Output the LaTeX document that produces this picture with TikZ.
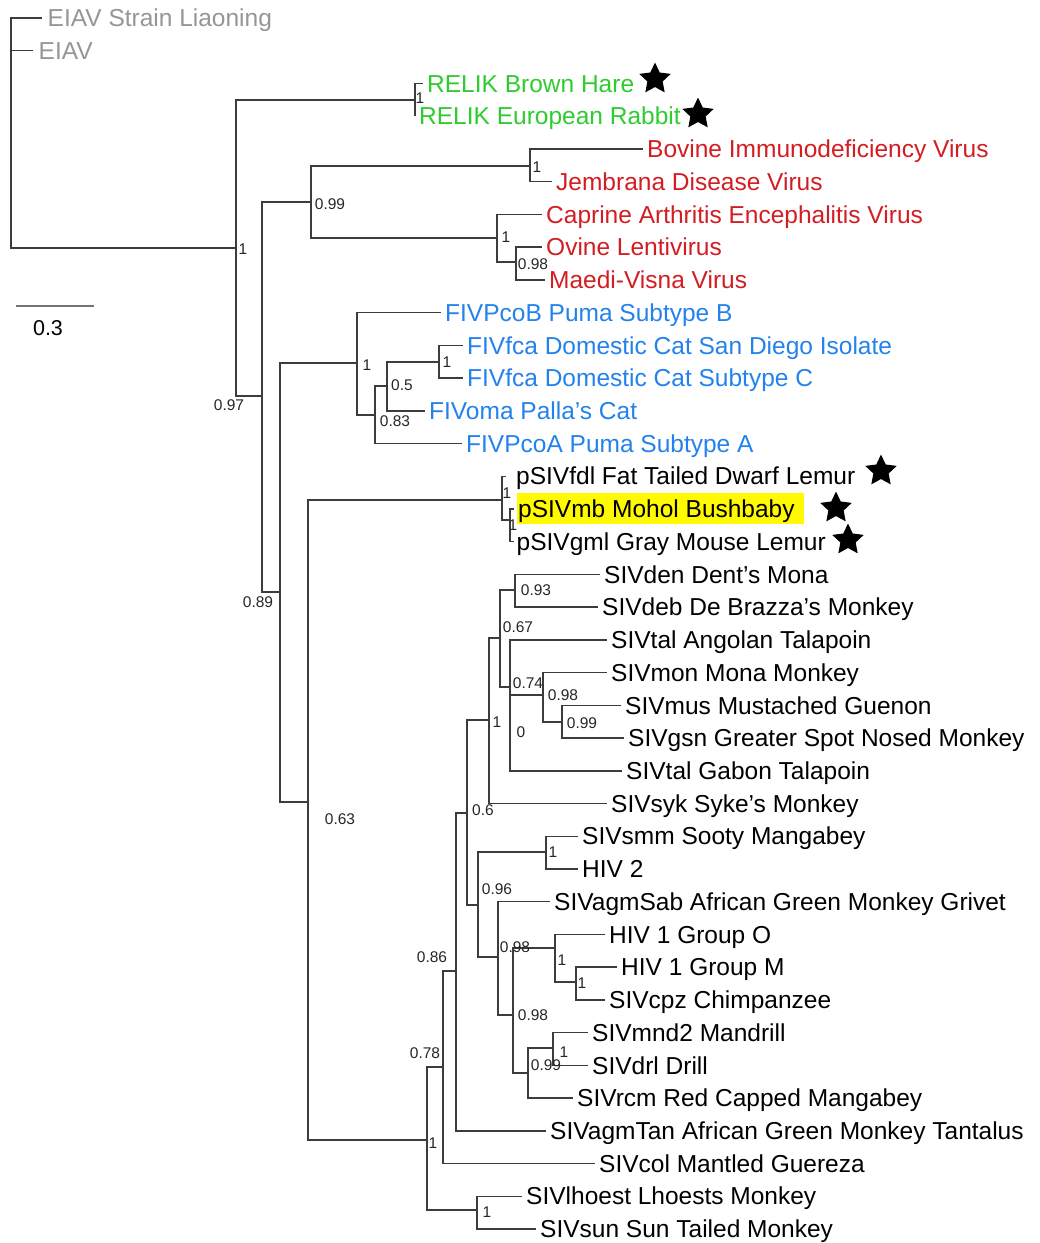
\documentclass[tikz,border=0pt]{standalone}
\usepackage{fontspec}
\setmainfont{Liberation Sans}
\usetikzlibrary{shapes.geometric}
\definecolor{cgrey}{RGB}{150,150,150}
\definecolor{cgreen}{RGB}{46,204,46}
\definecolor{cred}{RGB}{210,30,35}
\definecolor{cblue}{RGB}{35,130,235}
\definecolor{cline}{RGB}{60,60,60}
\definecolor{cyel}{RGB}{255,250,0}
\begin{document}
\begin{tikzpicture}[x=1pt,y=-1pt,
  br/.style={draw=cline,line width=1.4pt},
  taxon/.style={anchor=west,inner ysep=0pt,inner xsep=4pt,text height=17.5pt,text depth=0pt,font=\fontsize{24.5}{28}\selectfont},
  supp/.style={inner sep=0pt,text height=11pt,text depth=0pt,font=\fontsize{15.5}{18}\selectfont,text=black!85},
  starmark/.style={star,star points=5,star point ratio=2.05,fill=black,inner sep=0pt,minimum size=33pt}]
\useasboundingbox[fill=white] (0,0) rectangle (1040,1243);

% highlight
\node[fill=cyel,minimum width=287pt,minimum height=31pt,inner sep=0pt,anchor=north west] (hl) at (517,493) {};

% leaves
\node[taxon,text=cgrey,inner xsep=5.5pt] (L1) at (42,18) {EIAV Strain Liaoning};
\node[taxon,text=cgrey,inner xsep=5.5pt] (L2) at (33,50.7) {EIAV};
\node[taxon,text=cgreen] (L3) at (423,83.5) {RELIK Brown Hare};
\node[taxon,text=cgreen] (L4) at (415,116.2) {RELIK European Rabbit};
\node[taxon,text=cred] (L5) at (643,148.9) {Bovine Immunodeficiency Virus};
\node[taxon,text=cred] (L6) at (552,181.7) {Jembrana Disease Virus};
\node[taxon,text=cred] (L7) at (542,214.4) {Caprine Arthritis Encephalitis Virus};
\node[taxon,text=cred] (L8) at (542,247.1) {Ovine Lentivirus};
\node[taxon,text=cred] (L9) at (545,279.8) {Maedi-Visna Virus};
\node[taxon,text=cblue] (L10) at (441,312.6) {FIVPcoB Puma Subtype B};
\node[taxon,text=cblue] (L11) at (463,345.3) {FIVfca Domestic Cat San Diego Isolate};
\node[taxon,text=cblue] (L12) at (463,378) {FIVfca Domestic Cat Subtype C};
\node[taxon,text=cblue] (L13) at (425,410.8) {FIVoma Palla's Cat};
\node[taxon,text=cblue] (L14) at (462,443.5) {FIVPcoA Puma Subtype A};
\node[taxon,inner xsep=10pt] (L15) at (506,476.2) {pSIVfdl Fat Tailed Dwarf Lemur};
\node[taxon] (L16) at (514,508.9) {pSIVmb Mohol Bushbaby};
\node[taxon,inner xsep=2.5pt] (L17) at (514,541.7) {pSIVgml Gray Mouse Lemur};
\node[taxon] (L18) at (600,574.4) {SIVden Dent's Mona};
\node[taxon] (L19) at (598,607.1) {SIVdeb De Brazza's Monkey};
\node[taxon] (L20) at (607,639.8) {SIVtal Angolan Talapoin};
\node[taxon] (L21) at (607,672.6) {SIVmon Mona Monkey};
\node[taxon] (L22) at (621,705.3) {SIVmus Mustached Guenon};
\node[taxon] (L23) at (624,738) {SIVgsn Greater Spot Nosed Monkey};
\node[taxon] (L24) at (622,770.8) {SIVtal Gabon Talapoin};
\node[taxon] (L25) at (607,803.5) {SIVsyk Syke's Monkey};
\node[taxon] (L26) at (578,836.2) {SIVsmm Sooty Mangabey};
\node[taxon] (L27) at (578,868.9) {HIV 2};
\node[taxon] (L28) at (550,901.7) {SIVagmSab African Green Monkey Grivet};
\node[taxon] (L29) at (605,934.4) {HIV 1 Group O};
\node[taxon] (L30) at (617,967.1) {HIV 1 Group M};
\node[taxon] (L31) at (605,999.8) {SIVcpz Chimpanzee};
\node[taxon] (L32) at (588,1032.6) {SIVmnd2 Mandrill};
\node[taxon] (L33) at (588,1065.3) {SIVdrl Drill};
\node[taxon] (L34) at (573,1098) {SIVrcm Red Capped Mangabey};
\node[taxon] (L35) at (546,1130.8) {SIVagmTan African Green Monkey Tantalus};
\node[taxon] (L36) at (595,1163.5) {SIVcol Mantled Guereza};
\node[taxon] (L37) at (522,1196.2) {SIVlhoest Lhoests Monkey};
\node[taxon] (L38) at (536,1228.9) {SIVsun Sun Tailed Monkey};

% internal nodes
\coordinate (R) at (11,133);
\coordinate (A) at (236,248);
\coordinate (RK) at (415,100);
\coordinate (B) at (262,396);
\coordinate (N099) at (311,202);
\coordinate (BJ) at (530,166);
\coordinate (CA) at (497,238);
\coordinate (N098a) at (516,262);
\coordinate (C) at (280,592);
\coordinate (FIV) at (357,363);
\coordinate (N083) at (375,415);
\coordinate (N05) at (387,386);
\coordinate (FCA) at (439,362);
\coordinate (D) at (308,802);
\coordinate (PS1) at (502,500);
\coordinate (PS2) at (510,520);
\coordinate (E) at (427,1140);
\coordinate (LS) at (477,1210);
\coordinate (F) at (443,1067);
\coordinate (G) at (456,971);
\coordinate (H) at (467,813);
\coordinate (N1) at (489,720);
\coordinate (N067) at (500,638);
\coordinate (N093) at (515,590);
\coordinate (N074) at (510,687);
\coordinate (N0) at (510,731);
\coordinate (N098b) at (543,695);
\coordinate (N099b) at (562,722);
\coordinate (N096) at (478,905);
\coordinate (SH) at (546,852);
\coordinate (N098c) at (498,957);
\coordinate (N098d) at (513,1015);
\coordinate (HV1) at (555,948);
\coordinate (N1M) at (576,982);
\coordinate (N099c) at (528,1073);
\coordinate (MD) at (553,1048);

% branches
\foreach \p/\c in {R/L1.west,R/L2.west,R/A,A/RK,A/B,RK/L3.west,RK/L4.west,
  B/N099,B/C,N099/BJ,N099/CA,BJ/L5.west,BJ/L6.west,CA/L7.west,CA/N098a,
  N098a/L8.west,N098a/L9.west,C/FIV,C/D,FIV/L10.west,FIV/N083,N083/N05,
  N083/L14.west,N05/FCA,N05/L13.west,FCA/L11.west,FCA/L12.west,D/PS1,D/E,
  PS1/L15.west,PS1/PS2,PS2/L16.west,PS2/L17.west,E/F,E/LS,LS/L37.west,
  LS/L38.west,F/G,F/L36.west,G/H,G/L35.west,H/N1,H/N096,N1/N067,N1/L25.west,
  N067/N093,N067/N074,N093/L18.west,N093/L19.west,N074/L20.west,N074/N0,
  N0/N098b,N0/L24.west,N098b/L21.west,N098b/N099b,N099b/L22.west,
  N099b/L23.west,N096/SH,N096/N098c,SH/L26.west,SH/L27.west,N098c/L28.west,
  N098c/N098d,N098d/HV1,N098d/N099c,HV1/L29.west,HV1/N1M,N1M/L30.west,
  N1M/L31.west,N099c/MD,N099c/L34.west,MD/L32.west,MD/L33.west}
  \draw[br] (\p) |- (\c);
\draw[br,line width=2.8pt] ([yshift=-6pt]N074) -- (N0);

% support values
\node[supp] (sA) at (243,249) {1};
\node[supp] (sRK) at (420,98) {1};
\node[supp] (s099) at (330,204) {0.99};
\node[supp] (sBJ) at (537,167) {1};
\node[supp] (sCA) at (506,237) {1};
\node[supp] (s098a) at (533,264) {0.98};
\node[supp] (sB) at (229,405) {0.97};
\node[supp] (sFIV) at (367,365) {1};
\node[supp] (s05) at (402,385) {0.5};
\node[supp] (sFCA) at (447,362) {1};
\node[supp] (s083) at (395,421) {0.83};
\node[supp] (sC) at (258,602) {0.89};
\node[supp] (sD) at (340,819) {0.63};
\node[supp] (sPS1) at (507,493) {1};
\node[supp] (sPS2) at (513,525) {1};
\node[supp] (s093) at (536,590) {0.93};
\node[supp] (s067) at (518,627) {0.67};
\node[supp] (s074) at (528,683) {0.74};
\node[supp] (s0) at (521,732) {0};
\node[supp] (s098b) at (563,695) {0.98};
\node[supp] (s099b) at (582,723) {0.99};
\node[supp] (sN1) at (497,722) {1};
\node[supp] (sH) at (483,810) {0.6};
\node[supp] (sSH) at (553,852) {1};
\node[supp] (s096) at (497,889) {0.96};
\node[supp] (s098c) at (515,947) {0.98};
\node[supp] (s098d) at (533,1015) {0.98};
\node[supp] (sHV1) at (562,960) {1};
\node[supp] (sN1M) at (582,983) {1};
\node[supp] (sMD) at (564,1052) {1};
\node[supp] (s099c) at (546,1065) {0.99};
\node[supp] (sG) at (432,957) {0.86};
\node[supp] (sF) at (425,1053) {0.78};
\node[supp] (sE) at (433,1143) {1};
\node[supp] (sLS) at (487,1212) {1};

% stars
\node[starmark] (st1) at (655,79) {};
\node[starmark] (st2) at (698,114) {};
\node[starmark] (st3) at (881,471) {};
\node[starmark] (st4) at (836,508) {};
\node[starmark] (st5) at (848,540) {};

% scale bar
\coordinate (sb1) at (16,306);
\coordinate (sb2) at (94,306);
\draw[line width=1.6pt,draw=black!55] (sb1) -- (sb2);
\node[inner sep=0pt,text height=15pt,text depth=0pt,font=\fontsize{21.5}{24}\selectfont] (sbl) at (48,328) {0.3};
\end{tikzpicture}
\end{document}
